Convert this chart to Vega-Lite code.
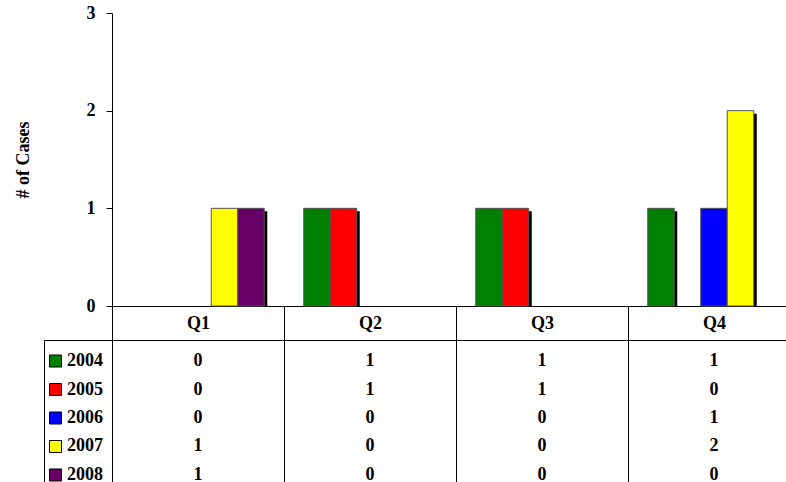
{
  "$schema": "https://vega.github.io/schema/vega-lite/v6.json",
  "padding": {"left": 14, "top": 4, "right": 0, "bottom": 0},
  "background": "white",
  "config": {
    "font": "Liberation Serif",
    "view": {"stroke": null},
    "axis": {
      "labelFont": "Liberation Serif",
      "titleFont": "Liberation Serif",
      "labelFontWeight": "bold",
      "titleFontWeight": "bold",
      "labelFontSize": 18,
      "titleFontSize": 18,
      "labelColor": "black",
      "titleColor": "black",
      "domainColor": "black",
      "tickColor": "black",
      "domainWidth": 1,
      "tickWidth": 1
    }
  },
  "data": {
    "values": [
      {"quarter": "Q1", "year": "2004", "value": 0},
      {"quarter": "Q1", "year": "2005", "value": 0},
      {"quarter": "Q1", "year": "2006", "value": 0},
      {"quarter": "Q1", "year": "2007", "value": 1},
      {"quarter": "Q1", "year": "2008", "value": 1},
      {"quarter": "Q2", "year": "2004", "value": 1},
      {"quarter": "Q2", "year": "2005", "value": 1},
      {"quarter": "Q2", "year": "2006", "value": 0},
      {"quarter": "Q2", "year": "2007", "value": 0},
      {"quarter": "Q2", "year": "2008", "value": 0},
      {"quarter": "Q3", "year": "2004", "value": 1},
      {"quarter": "Q3", "year": "2005", "value": 1},
      {"quarter": "Q3", "year": "2006", "value": 0},
      {"quarter": "Q3", "year": "2007", "value": 0},
      {"quarter": "Q3", "year": "2008", "value": 0},
      {"quarter": "Q4", "year": "2004", "value": 1},
      {"quarter": "Q4", "year": "2005", "value": 0},
      {"quarter": "Q4", "year": "2006", "value": 1},
      {"quarter": "Q4", "year": "2007", "value": 2},
      {"quarter": "Q4", "year": "2008", "value": 0}
    ]
  },
  "columns": 2,
  "spacing": {"row": 34, "column": 0},
  "bounds": "flush",
  "concat": [
    {
      "data": {"values": []},
      "mark": "point",
      "width": 68,
      "height": 293
    },
    {
      "width": 688,
      "height": 293,
      "transform": [{"filter": "datum.value > 0"}],
      "encoding": {
        "x": {
          "field": "quarter",
          "type": "nominal",
          "scale": {"type": "band", "domain": ["Q1", "Q2", "Q3", "Q4"], "paddingInner": 0, "paddingOuter": 0},
          "axis": {
            "title": null,
            "labelAngle": 0,
            "tickBand": "extent",
            "tickSize": 34,
            "labelPadding": -17,
            "labelBaseline": "middle"
          }
        },
        "y": {
          "field": "value",
          "type": "quantitative",
          "scale": {"domain": [0, 3]},
          "stack": null,
          "axis": {
            "values": [0, 1, 2, 3],
            "format": "d",
            "title": "# of Cases",
            "grid": false,
            "tickSize": 6,
            "labelPadding": 11,
            "titlePadding": 54
          }
        }
      },
      "layer": [
        {
          "mark": {"type": "bar", "color": "black", "yOffset": 3, "y2Offset": 0},
          "encoding": {
            "xOffset": {
              "field": "year",
              "type": "nominal",
              "scale": {"domain": ["2004", "2005", "2006", "2007", "2008"], "paddingInner": 0, "paddingOuter": 0.745, "align": 0.576}
            }
          }
        },
        {
          "mark": {"type": "bar", "stroke": "#555555", "strokeWidth": 1},
          "encoding": {
            "xOffset": {
              "field": "year",
              "type": "nominal",
              "scale": {"domain": ["2004", "2005", "2006", "2007", "2008"], "paddingInner": 0, "paddingOuter": 0.745, "align": 0.5}
            },
            "color": {
              "field": "year",
              "type": "nominal",
              "scale": {"domain": ["2004", "2005", "2006", "2007", "2008"], "range": ["#008000", "#FF0000", "#0000FF", "#FFFF00", "#660066"]},
              "legend": null
            }
          }
        }
      ],
      "resolve": {"scale": {"xOffset": "independent"}}
    },
    {
      "width": 68,
      "height": 156,
      "view": {"stroke": "black", "strokeWidth": 1},
      "transform": [{"filter": "datum.quarter == 'Q1'"}],
      "encoding": {
        "y": {
          "field": "year",
          "type": "nominal",
          "scale": {"type": "point", "padding": 0.737},
          "axis": null
        }
      },
      "layer": [
        {
          "mark": {"type": "point", "shape": "square", "size": 144, "filled": true, "opacity": 1, "stroke": "black", "strokeWidth": 1, "xOffset": -22.5},
          "encoding": {
            "color": {
              "field": "year",
              "type": "nominal",
              "scale": {"domain": ["2004", "2005", "2006", "2007", "2008"], "range": ["#008000", "#FF0000", "#0000FF", "#FFFF00", "#660066"]},
              "legend": null
            }
          }
        },
        {
          "mark": {"type": "text", "align": "left", "baseline": "middle", "dx": -11, "font": "Liberation Serif", "fontWeight": "bold", "fontSize": 18, "color": "black"},
          "encoding": {"text": {"field": "year", "type": "nominal"}}
        }
      ]
    },
    {
      "width": 688,
      "height": 156,
      "view": {"stroke": "black", "strokeWidth": 1},
      "mark": {"type": "text", "baseline": "middle", "font": "Liberation Serif", "fontWeight": "bold", "fontSize": 18, "color": "black"},
      "encoding": {
        "x": {
          "field": "quarter",
          "type": "nominal",
          "scale": {"type": "band", "domain": ["Q1", "Q2", "Q3", "Q4"], "paddingInner": 0, "paddingOuter": 0},
          "axis": {
            "orient": "top",
            "title": null,
            "labels": false,
            "ticks": false,
            "domain": false,
            "grid": true,
            "gridColor": "black",
            "gridOpacity": 1,
            "gridWidth": 1,
            "tickBand": "extent"
          }
        },
        "y": {
          "field": "year",
          "type": "nominal",
          "scale": {"type": "point", "padding": 0.737},
          "axis": null
        },
        "text": {"field": "value", "type": "quantitative"}
      }
    }
  ]
}
